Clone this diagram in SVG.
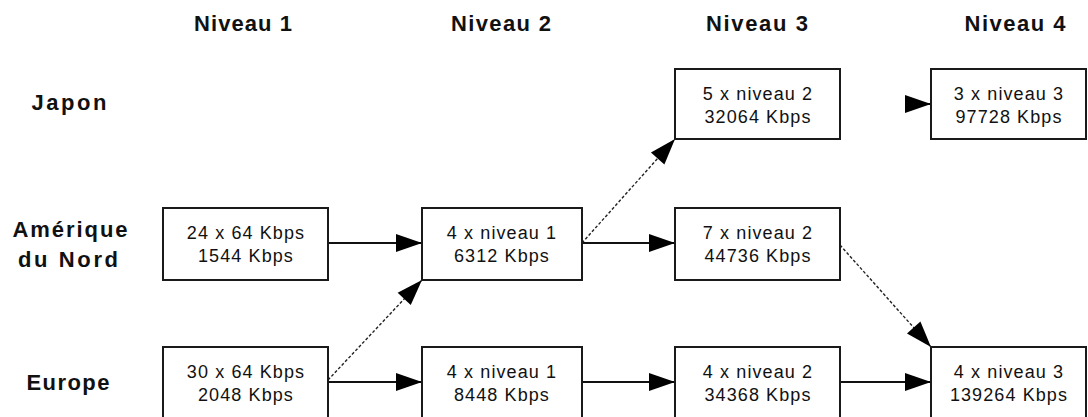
<svg xmlns="http://www.w3.org/2000/svg" width="1088" height="417" viewBox="0 0 1088 417">
<style>
.hdr{font-family:"Liberation Sans",Arial,sans-serif;font-weight:bold;font-size:22px;fill:#111;text-anchor:middle}
.box{fill:#fff;stroke:#1a1a1a;stroke-width:2}
.t{font-family:"Liberation Sans",Arial,sans-serif;font-size:18px;fill:#111;text-anchor:middle;letter-spacing:1.1px}
.solid{stroke:#111;stroke-width:2;fill:none;marker-end:url(#ah)}
.dash{stroke:#222;stroke-width:1.4;stroke-dasharray:3 2;fill:none;marker-end:url(#ah)}
</style>
<defs>
<marker id="ah" markerUnits="userSpaceOnUse" markerWidth="28" markerHeight="20" refX="27" refY="10" orient="auto">
<path d="M1,1 L27,10 L1,19 z" fill="#000"/>
</marker>
</defs>
<g id="headers">
<text class="hdr" x="243" y="31" textLength="98" lengthAdjust="spacing">Niveau 1</text>
<text class="hdr" x="501" y="31" textLength="100" lengthAdjust="spacing">Niveau 2</text>
<text class="hdr" x="757" y="31" textLength="102" lengthAdjust="spacing">Niveau 3</text>
<text class="hdr" x="1015" y="31" textLength="101" lengthAdjust="spacing">Niveau 4</text>
</g>
<g id="rows">
<text class="hdr" x="69" y="110" textLength="75" lengthAdjust="spacing">Japon</text>
<text class="hdr" x="70" y="237" textLength="115" lengthAdjust="spacing">Amérique</text>
<text class="hdr" x="68" y="267" textLength="100" lengthAdjust="spacing">du Nord</text>
<text class="hdr" x="68" y="390" textLength="83" lengthAdjust="spacing">Europe</text>
</g>
<g id="connectors">
<line class="solid" x1="328" y1="243" x2="422" y2="243"/>
<line class="solid" x1="328" y1="382" x2="422" y2="382"/>
<line class="dash" x1="328" y1="380" x2="422" y2="280"/>
<line class="solid" x1="582" y1="243" x2="675" y2="243"/>
<line class="dash" x1="582" y1="243" x2="675" y2="139"/>
<line class="solid" x1="582" y1="382" x2="675" y2="382"/>
<line class="dash" x1="840" y1="245" x2="931" y2="347"/>
<line class="solid" x1="840" y1="382" x2="931" y2="382"/>
<line class="solid" x1="905" y1="104" x2="931" y2="104"/>
</g>
<g id="na-l1">
<rect class="box" x="163" y="208" width="165" height="72"/>
<text class="t" x="246" y="239">24 x 64 Kbps</text>
<text class="t" x="246" y="262">1544 Kbps</text>
</g>
<g id="eu-l1">
<rect class="box" x="163" y="347" width="165" height="74"/>
<text class="t" x="246" y="378">30 x 64 Kbps</text>
<text class="t" x="246" y="401">2048 Kbps</text>
</g>
<g id="na-l2">
<rect class="box" x="422" y="208" width="160" height="72"/>
<text class="t" x="502" y="239">4 x niveau 1</text>
<text class="t" x="502" y="262">6312 Kbps</text>
</g>
<g id="eu-l2">
<rect class="box" x="422" y="347" width="160" height="74"/>
<text class="t" x="502" y="378">4 x niveau 1</text>
<text class="t" x="502" y="401">8448 Kbps</text>
</g>
<g id="jp-l3">
<rect class="box" x="675" y="69" width="165" height="70"/>
<text class="t" x="758" y="100">5 x niveau 2</text>
<text class="t" x="758" y="123">32064 Kbps</text>
</g>
<g id="na-l3">
<rect class="box" x="675" y="208" width="165" height="72"/>
<text class="t" x="758" y="239">7 x niveau 2</text>
<text class="t" x="758" y="262">44736 Kbps</text>
</g>
<g id="eu-l3">
<rect class="box" x="675" y="347" width="165" height="74"/>
<text class="t" x="758" y="378">4 x niveau 2</text>
<text class="t" x="758" y="401">34368 Kbps</text>
</g>
<g id="jp-l4">
<rect class="box" x="931" y="69" width="155" height="70"/>
<text class="t" x="1009" y="100">3 x niveau 3</text>
<text class="t" x="1009" y="123">97728 Kbps</text>
</g>
<g id="eu-l4">
<rect class="box" x="931" y="347" width="155" height="74"/>
<text class="t" x="1009" y="378">4 x niveau 3</text>
<text class="t" x="1009" y="401">139264 Kbps</text>
</g>
</svg>
